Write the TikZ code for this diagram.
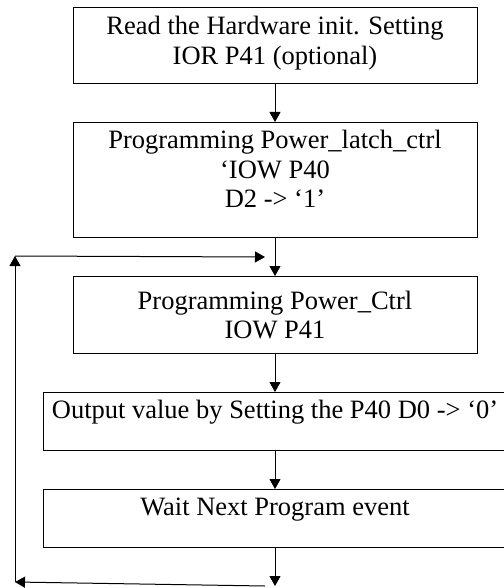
\documentclass[tikz,border=0pt]{standalone}
\usepackage{fontspec}
\setmainfont{Liberation Serif}
\usetikzlibrary{arrows.meta, positioning, calc}
\tikzset{
  every picture/.style={line width=1pt},
  box/.style={draw, align=center, inner sep=4pt, font=\fontsize{26.5}{29.5}\selectfont,
    minimum width=404pt},
  widebox/.style={box, minimum width=464pt, minimum height=58pt, text depth=24pt},
  arrow/.style={-{Triangle[length=10pt, width=11pt]}},
}
\begin{document}
\begin{tikzpicture}[x=1pt, y=-1pt, node distance=38pt]
  \useasboundingbox (0,0) rectangle (503,588);
  % flow boxes
  \node[box, anchor=north, minimum height=76pt, text depth=10pt] (hwinit) at (275,7)
    {Read the Hardware init. Setting\\IOR P41 (optional)};
  \node[box, below=of hwinit, minimum height=115pt, text depth=22pt] (latch)
    {Programming Power\_latch\_ctrl\\‘IOW P40\\D2 -> ‘1’};
  \node[box, below=of latch, minimum height=77pt] (pwrctrl)
    {Programming Power\_Ctrl\\IOW P41};
  \node[widebox, below=of pwrctrl] (output)
    {Output value by Setting the P40 D0 -> ‘0’};
  \node[widebox, below=of output] (wait)
    {Wait Next Program event};
  % loop corners
  \coordinate (topR) at ($(latch.south)!0.5!(pwrctrl.north)$);
  \coordinate (botR) at ([yshift=-38pt]wait.south);
  \coordinate (topL) at (15,256);
  \coordinate (botL) at (15,582);
  % connectors
  \draw[arrow] (hwinit) -- (latch);
  \draw[arrow] (latch) -- (pwrctrl);
  \draw[arrow] (pwrctrl) -- (output);
  \draw[arrow] (output) -- (wait);
  \draw[arrow] (wait) -- (botR);
  \draw[arrow] ([xshift=-10pt]botR) -- (botL);
  \draw[arrow] (botL) -- (topL);
  \draw[arrow] (topL) -- ([xshift=-10pt]topR);
\end{tikzpicture}
\end{document}
